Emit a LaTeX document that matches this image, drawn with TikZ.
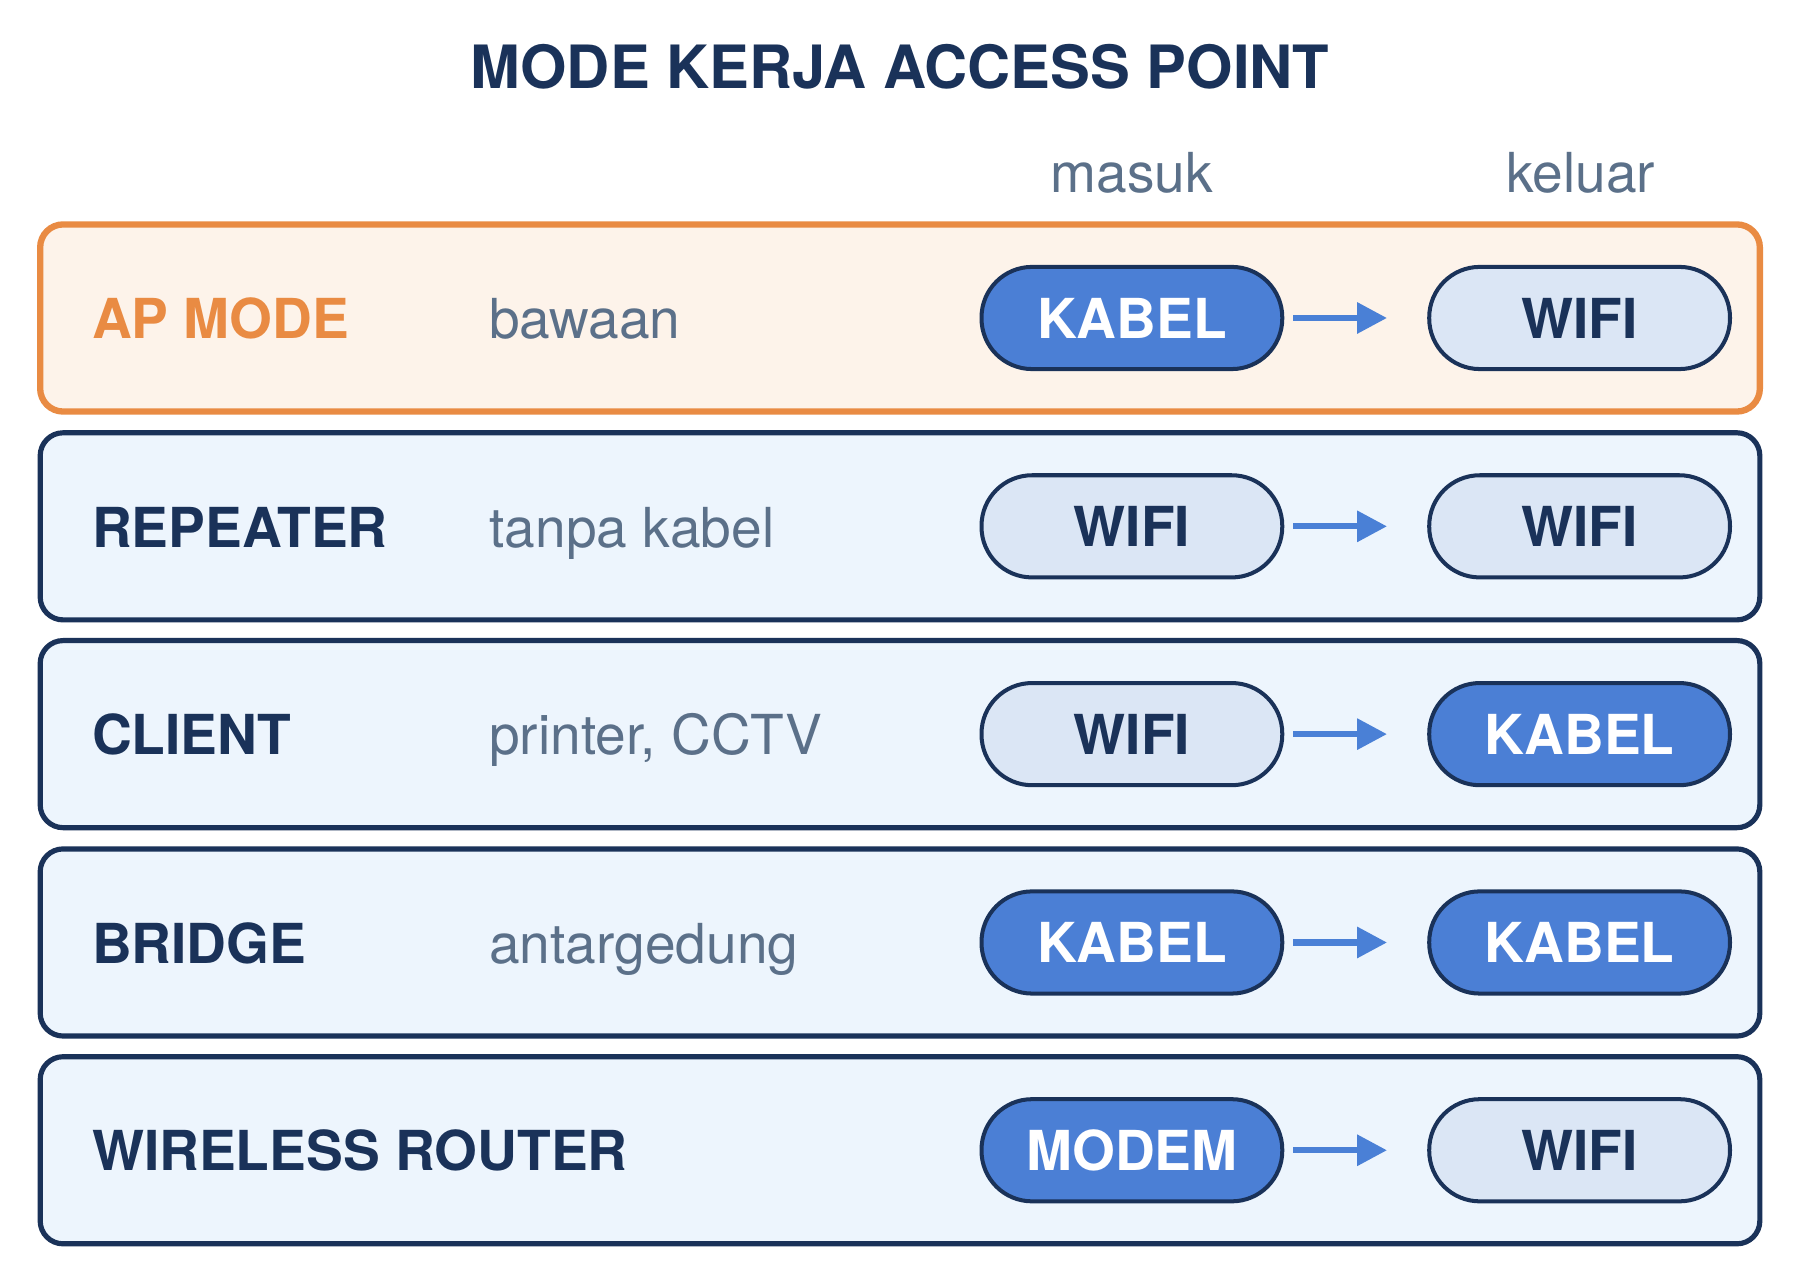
\documentclass[tikz,border=0pt]{standalone}
\usepackage{fontspec}
\setmainfont{TeX Gyre Heros}
\usetikzlibrary{arrows.meta}
\definecolor{navy}{HTML}{1A3259}
\definecolor{orangeline}{HTML}{E98B43}
\definecolor{orangefill}{HTML}{FDF3EA}
\definecolor{rowfill}{HTML}{EDF5FD}
\definecolor{pillblue}{HTML}{4B7FD5}
\definecolor{pilllight}{HTML}{DBE6F5}
\definecolor{slate}{HTML}{5B7089}
\definecolor{arrowblue}{HTML}{4A80D6}
\tikzset{
  rowbox/.style={draw=navy, line width=4.5pt, fill=rowfill, rounded corners=20pt},
  apbox/.style={draw=orangeline, line width=5.5pt, fill=orangefill, rounded corners=20pt},
  txt/.style={inner sep=0pt, font=\fontsize{48}{56}\selectfont},
  lab/.style={txt, font=\fontsize{48}{56}\selectfont\bfseries, text=navy, anchor=base west},
  aplab/.style={lab, text=orangeline},
  desc/.style={txt, text=slate, anchor=base west},
  colhead/.style={txt, text=slate, anchor=base},
  pill/.style={draw=navy, line width=3.5pt, rounded corners=44pt, minimum width=262pt,
    minimum height=89pt, inner sep=0pt, font=\fontsize{48}{56}\selectfont\bfseries},
  pillK/.style={pill, fill=pillblue, text=white},
  pillW/.style={pill, fill=pilllight, text=navy},
  flow/.style={draw=arrowblue, line width=5.5pt, shorten <=8pt, shorten >=35pt,
    -{Triangle[length=26pt,width=26pt]}}
}
\begin{document}
\begin{tikzpicture}[x=1pt,y=-1pt]
\useasboundingbox (0,0) rectangle (1568,1115);
\fill[white] (0,0) rectangle (1568,1115);

\node[inner sep=0pt, anchor=base, text=navy, font=\fontsize{52}{60}\selectfont\bfseries] (title) at (784,77) {MODE KERJA ACCESS POINT};
\node[colhead] (hin) at (986,168) {masuk};
\node[colhead] (hout) at (1377,168) {keluar};

% rows
\draw[apbox] (35,195.5) rectangle (1533,358.5);
\draw[rowbox] (35,377) rectangle (1533,540);
\draw[rowbox] (35,558) rectangle (1533,721);
\draw[rowbox] (35,739.5) rectangle (1533,902.5);
\draw[rowbox] (35,920.5) rectangle (1533,1083.5);

% row 1
\node[aplab] (lab1) at (80,295) {AP MODE};
\node[desc] (desc1) at (426,295) {bawaan};
\node[pillK] (in1) at (986,277) {KABEL};
\node[pillW] (out1) at (1376,277) {WIFI};
\draw[flow] (in1) -- (out1);

% row 2
\node[lab] (lab2) at (80,476.5) {REPEATER};
\node[desc] (desc2) at (426,476.5) {tanpa kabel};
\node[pillW] (in2) at (986,458.5) {WIFI};
\node[pillW] (out2) at (1376,458.5) {WIFI};
\draw[flow] (in2) -- (out2);

% row 3
\node[lab] (lab3) at (80,657.5) {CLIENT};
\node[desc] (desc3) at (426,657.5) {printer, CCTV};
\node[pillW] (in3) at (986,639.5) {WIFI};
\node[pillK] (out3) at (1376,639.5) {KABEL};
\draw[flow] (in3) -- (out3);

% row 4
\node[lab] (lab4) at (80,839) {BRIDGE};
\node[desc] (desc4) at (426,839) {antargedung};
\node[pillK] (in4) at (986,821) {KABEL};
\node[pillK] (out4) at (1376,821) {KABEL};
\draw[flow] (in4) -- (out4);

% row 5
\node[lab] (lab5) at (80,1020) {WIRELESS ROUTER};
\node[pillK] (in5) at (986,1002) {MODEM};
\node[pillW] (out5) at (1376,1002) {WIFI};
\draw[flow] (in5) -- (out5);
\end{tikzpicture}
\end{document}
